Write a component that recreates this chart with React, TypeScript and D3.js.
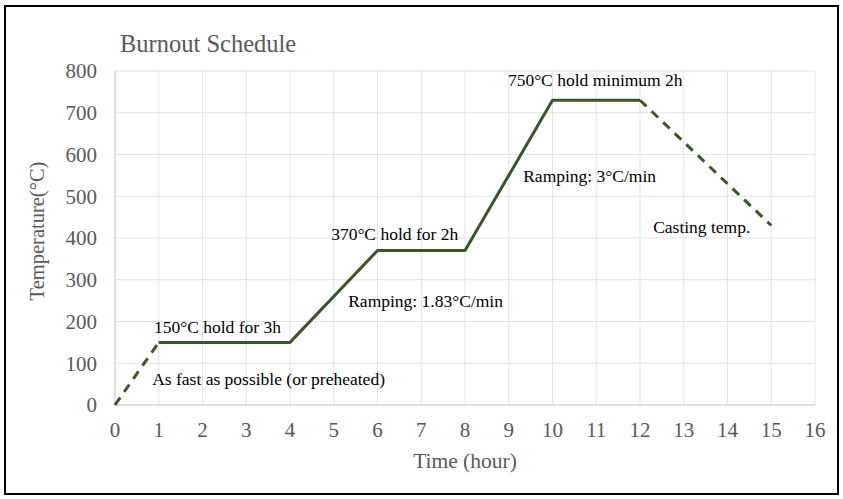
import React from "react";
import * as d3 from "d3";

const times = [0, 1, 4, 6, 8, 10, 12, 15];
const temps = [0, 150, 150, 370, 370, 730, 730, 430];
const solidRange = [1, 6]; // indices of the solid part
const xTicks = d3.range(0, 17);
const yTicks = d3.range(0, 900, 100);
const notes = [
  { t: 8.98, v: 765, text: "750°C hold minimum 2h" },
  { t: 9.33, v: 535, text: "Ramping: 3°C/min" },
  { t: 12.3, v: 413, text: "Casting temp." },
  { t: 4.94, v: 395, text: "370°C hold for 2h" },
  { t: 5.33, v: 235, text: "Ramping: 1.83°C/min" },
  { t: 0.89, v: 173, text: "150°C hold for 3h" },
  { t: 0.85, v: 48, text: "As fast as possible (or preheated)" },
];

export default function App() {
  const W = 843, H = 499;
  const x = d3.scaleLinear().domain([0, 16]).range([115, 815]);
  const y = d3.scaleLinear().domain([0, 800]).range([405, 71]);
  const pts = times.map((t, i) => [t, temps[i]] as [number, number]);
  const line = d3.line<[number, number]>().x(d => x(d[0])).y(d => y(d[1]));
  const solid = pts.slice(solidRange[0], solidRange[1] + 1);
  const dash1 = pts.slice(0, 2);
  const dash2 = pts.slice(solidRange[1]);
  const gray = "#595959";
  const green = "#3a5626";
  const font = "'Liberation Serif', 'Times New Roman', serif";
  return (
    <div style={{ position: "absolute", left: 0, top: 0 }}>
      <svg width={W} height={H} style={{ display: "block", fontFamily: font }}>
        <rect x={0} y={0} width={W} height={H} fill="#fff" />
        <rect x={5} y={6} width={833} height={488} fill="none" stroke="#000" strokeWidth={2} />
        <text x={120} y={52} fontSize={24.5} fill={gray}>Burnout Schedule</text>
        {xTicks.map(t => (
          <line key={"gx" + t} x1={x(t)} x2={x(t)} y1={y(0)} y2={y(800)} stroke="#e3e3e3" strokeWidth={1} />
        ))}
        {yTicks.map(v => (
          <line key={"gy" + v} x1={x(0)} x2={x(16)} y1={y(v)} y2={y(v)} stroke="#e3e3e3" strokeWidth={1} />
        ))}
        <line x1={x(0)} x2={x(16)} y1={y(0)} y2={y(0)} stroke="#cfcfcf" strokeWidth={1} />
        <line x1={x(0)} x2={x(0)} y1={y(0)} y2={y(800)} stroke="#cfcfcf" strokeWidth={1} />
        {yTicks.map(v => (
          <text key={"ly" + v} x={97} y={y(v)} dy="0.35em" textAnchor="end" fontSize={21} fill={gray}>{v}</text>
        ))}
        {xTicks.map(t => (
          <text key={"lx" + t} x={x(t)} y={437} textAnchor="middle" fontSize={21} fill={gray}>{t}</text>
        ))}
        <text x={465} y={468} textAnchor="middle" fontSize={21.5} fill={gray}>Time (hour)</text>
        <text transform={`translate(44,${y(400) - 7}) rotate(-90)`} textAnchor="middle" fontSize={20.5} fill={gray}>Temperature(°C)</text>
        <path d={line(dash1) || ""} fill="none" stroke={green} strokeWidth={3} strokeDasharray="9,7" />
        <path d={line(dash2) || ""} fill="none" stroke={green} strokeWidth={3} strokeDasharray="9,7" />
        <path d={line(solid) || ""} fill="none" stroke={green} strokeWidth={3} strokeLinejoin="round" />
        {notes.map(n => (
          <text key={n.text} x={x(n.t)} y={y(n.v)} fontSize={17.5} fill="#000">{n.text}</text>
        ))}
      </svg>
    </div>
  );
}
